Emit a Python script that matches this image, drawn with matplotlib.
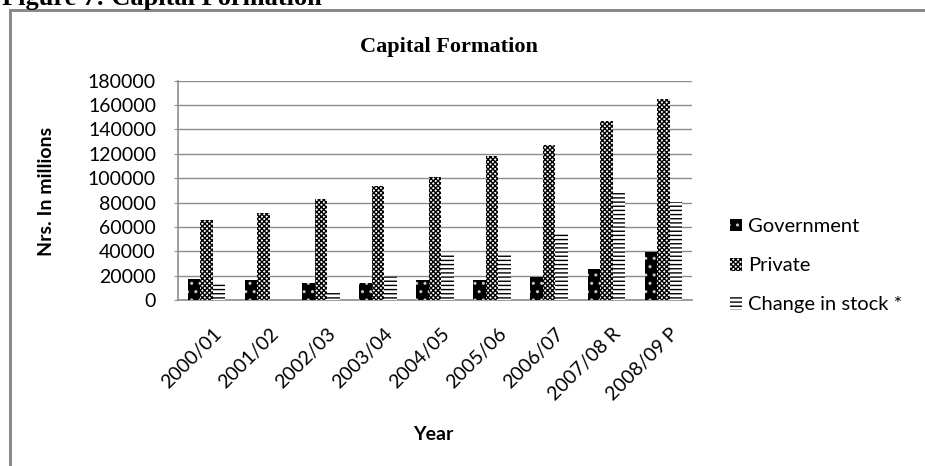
"""Capital formation by sector (government / private / change in stock), grouped bars
with Excel-style fill patterns. Writes out.png."""
import numpy as np
import matplotlib
matplotlib.use("Agg")
import matplotlib.pyplot as plt
from matplotlib.lines import Line2D

# ---- Data (Nrs. in millions) ----
years = ["2000/01", "2001/02", "2002/03", "2003/04", "2004/05",
         "2005/06", "2006/07", "2007/08 R", "2008/09 P"]
government = [17000, 16400, 13700, 13700, 16400, 16400, 19100, 25200, 39100]
private = [65600, 71100, 82600, 93500, 100700, 118200, 127200, 147100, 164700]
change_in_stock = [13100, 0, 6000, 19700, 36900, 36900, 53900, 87500, 80200]

series_names = ["Government", "Private", "Change in stock *"]

W, H, DPI = 925, 466, 100
SANS = ["Lato", "DejaVu Sans"]
GRID = "#8c8c8c"

plt.rcParams["hatch.linewidth"] = 1.0
plt.rcParams["font.family"] = SANS


def px(v):
    """pixels -> points"""
    return v * 72.0 / DPI


fig = plt.figure(figsize=(W / DPI, H / DPI), dpi=DPI)
ax = fig.add_axes([178 / W, 1 - 300 / H, (692 - 178) / W, (300 - 80.7) / H])

x = np.arange(len(years))
bw = 0.219
styles = [
    dict(facecolor="black", edgecolor="#c8c8c8", hatch="..", linewidth=0),
    dict(facecolor="white", edgecolor="black", hatch="xxxxxxx", linewidth=0),
    dict(facecolor="white", edgecolor="black", hatch="----", linewidth=0),
]
handles = []
for i, (vals, st) in enumerate(zip([government, private, change_in_stock], styles)):
    bars = ax.bar(x + (i - 1) * bw, vals, width=bw, zorder=3, **st)
    handles.append(bars)

ax.set_xlim(-0.5, len(years) - 0.5)
ax.set_ylim(0, 180000)
ax.set_yticks(np.arange(0, 180001, 20000))
ax.yaxis.grid(True, color=GRID, lw=1.0, zorder=0)
ax.set_axisbelow(True)
for s in ["top", "right"]:
    ax.spines[s].set_visible(False)
for s in ["left", "bottom"]:
    ax.spines[s].set_color(GRID)
    ax.spines[s].set_linewidth(1.2)

ax.tick_params(axis="y", length=px(4), color=GRID, pad=px(18), labelsize=14)
ax.tick_params(axis="x", length=0, labelsize=14)
ax.set_xticks(x)
ax.set_xticklabels(years, rotation=45, ha="right", va="top", rotation_mode="anchor")
# shift rotated year labels so their ends sit just below each group
off = matplotlib.transforms.ScaledTranslation(6 / DPI, -20 / DPI, fig.dpi_scale_trans)
for lab in ax.get_xticklabels():
    lab.set_transform(lab.get_transform() + off)

ax.set_ylabel("Nrs. In millions", fontsize=14, fontweight="bold")
ax.yaxis.set_label_coords(55 / W, 1 - 191 / H, transform=fig.transFigure)
fig.text(433 / W, 1 - 435 / H, "Year", fontsize=14, fontweight="bold",
         ha="center", va="center")

fig.text(449 / W, 1 - 47 / H, "Capital Formation", fontsize=16, fontweight="bold",
         family="Liberation Serif", ha="center", va="center")

leg = fig.legend(handles, series_names, loc="upper left",
                 bbox_to_anchor=(722 / W, 1 - 210 / H), frameon=False,
                 fontsize=14.5, handlelength=0.6, handleheight=0.6,
                 handletextpad=0.3, labelspacing=1.1, borderaxespad=0)

# outer chart frame (only the top and left edges fall inside the image)
fig.add_artist(Line2D([10 / W, 10 / W], [0, 1 - 10 / H], transform=fig.transFigure,
                      color="#8a8a8a", lw=px(3)))
fig.add_artist(Line2D([10 / W, 1], [1 - 10 / H, 1 - 10 / H], transform=fig.transFigure,
                      color="#8a8a8a", lw=px(3)))

# document caption above the chart, clipped by the top edge
fig.text(2 / W, 1 - 5 / H, "Figure 7: Capital Formation", fontsize=19, fontweight="bold",
         family="Liberation Serif", ha="left", va="baseline")

fig.savefig("out.png", dpi=DPI)
plt.close(fig)
